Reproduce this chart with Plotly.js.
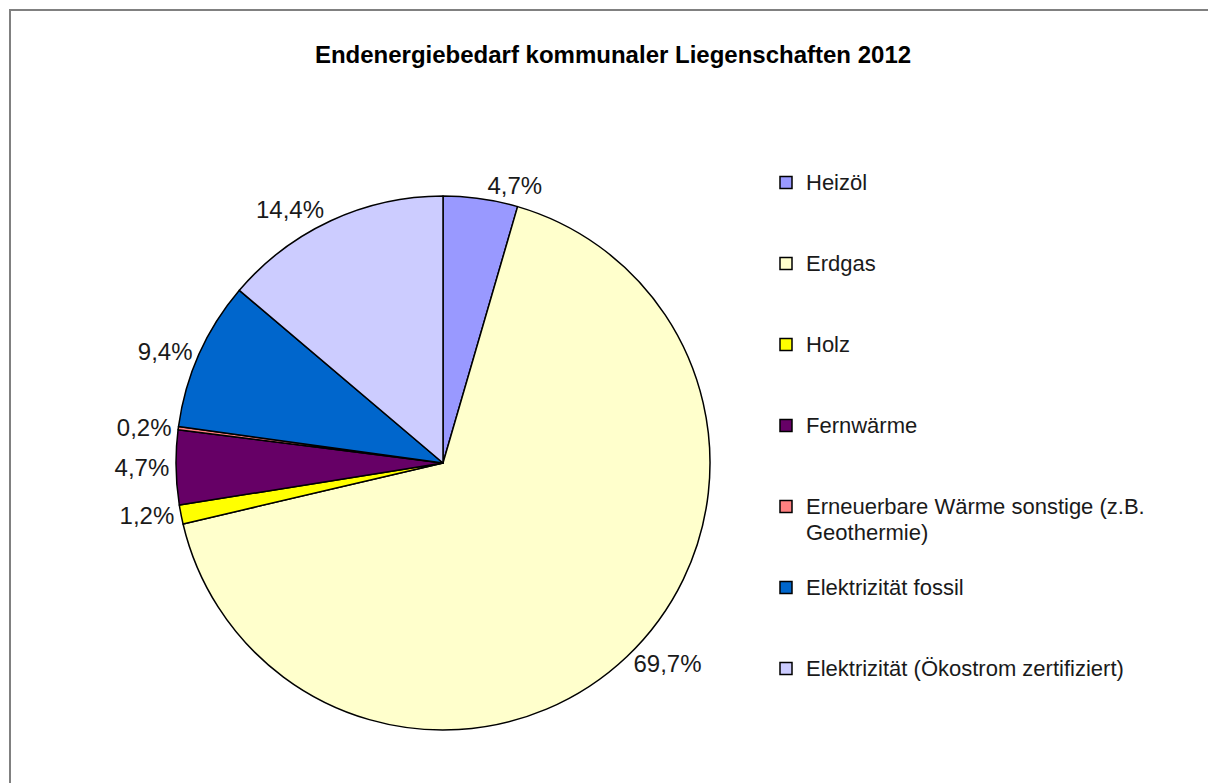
<!DOCTYPE html>
<html>
<head>
<meta charset="utf-8">
<script src="https://cdn.plot.ly/plotly-3.0.1.min.js"></script>
<style>html,body{margin:0;padding:0;background:#fff;}#chart{width:1208px;height:783px;}</style>
</head>
<body>
<div id="chart"></div>
<script>
const categories = [
  "Heizöl",
  "Erdgas",
  "Holz",
  "Fernwärme",
  "Erneuerbare Wärme sonstige (z.B.<br>Geothermie)",
  "Elektrizität fossil",
  "Elektrizität (Ökostrom zertifiziert)"
];
const shares = [4.7, 69.7, 1.2, 4.7, 0.2, 9.4, 14.4];
const colors = ["#9999FF", "#FFFFCC", "#FFFF00", "#660066", "#FF8080", "#0066CC", "#CCCCFF"];
const titleText = "Endenergiebedarf kommunaler Liegenschaften 2012";

// legend labels padded to three lines for even spacing
const legendLabels = categories.map(c => {
  const parts = c.split("<br>");
  const lines = parts.map(p => '<span style="font-size:22px">' + p + '</span>');
  while (lines.length < 3) lines.push(" ");
  return lines.join("<br>");
});
const pctText = shares.map(v => v.toFixed(1).replace(".", ",") + "%");

const W = 1208, H = 783;
const cx = 443, cy = 463, r = 267;

const trace = {
  type: "pie",
  labels: legendLabels,
  values: shares,
  text: pctText,
  textinfo: "text",
  textposition: "outside",
  sort: false,
  direction: "clockwise",
  rotation: 0,
  hole: 0,
  marker: { colors: colors, line: { color: "#000000", width: 1.5 } },
  outsidetextfont: { family: "Liberation Sans, Arial, sans-serif", size: 24, color: "#1a1a1a" },
  domain: { x: [(cx - r) / W, (cx + r) / W], y: [(H - cy - r) / H, (H - cy + r) / H] },
  hoverinfo: "text"
};

const layout = {
  width: W, height: H,
  margin: { l: 0, r: 0, t: 0, b: 0 },
  paper_bgcolor: "#ffffff",
  font: { family: "Liberation Sans, Arial, sans-serif", color: "#1a1a1a" },
  title: {
    text: "<b>" + titleText + "</b>",
    x: 613 / W, xanchor: "center",
    y: 1 - 55 / H, yanchor: "middle",
    font: { size: 24, color: "#000000", family: "Liberation Sans, Arial, sans-serif" }
  },
  showlegend: true,
  legend: {
    x: 766 / W, xanchor: "left",
    y: 1 - 163 / H, yanchor: "top",
    font: { size: 20, color: "#1a1a1a" },
    valign: "top",
    itemwidth: 30,
    bgcolor: "rgba(0,0,0,0)",
    traceorder: "normal"
  },
  shapes: [{
    type: "rect", xref: "paper", yref: "paper",
    x0: 10 / W, x1: 1.02, y0: -0.02, y1: 1 - 10 / H,
    line: { color: "#808080", width: 2 }, fillcolor: "rgba(0,0,0,0)"
  }]
};

Plotly.newPlot("chart", [trace], layout, { displayModeBar: false, staticPlot: true });
</script>
</body>
</html>
